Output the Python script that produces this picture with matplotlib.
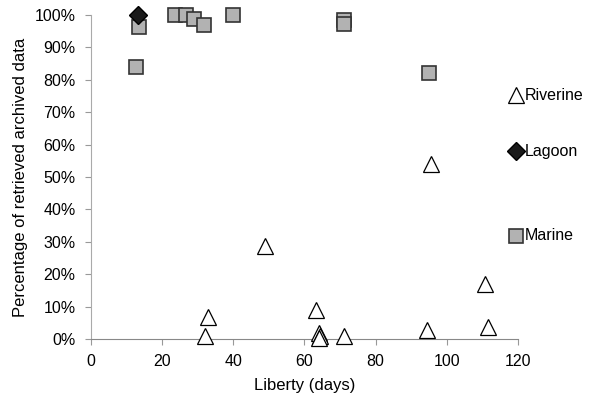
import matplotlib.pyplot as plt
from matplotlib.ticker import PercentFormatter

plt.rcParams['font.family'] = ['Liberation Sans', 'DejaVu Sans']

# Riverine tags (liberty days, % retrieved)
riverine_x = [32.8, 32.0, 48.9, 63.2, 64.2, 64.5, 64.0, 71.0, 94.5, 95.5, 110.7, 111.7]
riverine_y = [6.9, 1.0, 28.7, 8.8, 1.8, 0.8, 0.3, 0.8, 2.9, 54.0, 17.0, 3.8]

# Lagoon tags
lagoon_x = [13.2]
lagoon_y = [100.0]

# Marine tags
marine_x = [12.6, 13.5, 23.5, 26.8, 28.9, 31.8, 39.9, 71.1, 71.1, 95.0]
marine_y = [84.0, 96.3, 100.0, 100.0, 98.8, 96.9, 100.0, 98.5, 97.2, 82.0]

# labels drawn at right edge, as in the original
key_names = ['Riverine', 'Lagoon', 'Marine']
key_x = 119.5
key_y = [75.3, 58.0, 31.8]

fig = plt.figure(figsize=(5.9, 3.96), dpi=100)
ax = fig.add_axes([0.154, 0.144, 0.724, 0.818])

tri = dict(marker='^', ms=11, mfc='white', mec='black', mew=0.9, ls='none', clip_on=False)
dia = dict(marker='D', ms=9.5, mfc='#1a1a1a', mec='black', mew=1.0, ls='none', clip_on=False)
sq = dict(marker='s', ms=10, mfc='#b2b2b2', mec='#333333', mew=1.2, ls='none', clip_on=False)

ax.plot(riverine_x, riverine_y, **tri, zorder=3)
ax.plot(marine_x, marine_y, **sq, zorder=3)
ax.plot(lagoon_x, lagoon_y, **dia, zorder=4)

styles = [tri, dia, sq]
for name, y, st in zip(key_names, key_y, styles):
    ax.plot([key_x], [y], **st, zorder=3)
    ax.text(key_x + 2.3, y, name, fontsize=11.5, va='center', ha='left', clip_on=False)

ax.set_xlim(0, 120)
ax.set_ylim(0, 100)
ax.set_xticks(range(0, 121, 20))
ax.set_yticks(range(0, 101, 10))
ax.yaxis.set_major_formatter(PercentFormatter(decimals=0))
ax.tick_params(labelsize=11.5, length=4, color='#999999', direction='out', pad=7)

for s in ['top', 'right']:
    ax.spines[s].set_visible(False)
ax.spines['left'].set_color('#aaaaaa')
ax.spines['bottom'].set_color('#888888')

ax.set_xlabel('Liberty (days)', fontsize=12, labelpad=6)
ax.set_ylabel('Percentage of retrieved archived data', fontsize=12, labelpad=5)

fig.savefig('out.png', dpi=100)
